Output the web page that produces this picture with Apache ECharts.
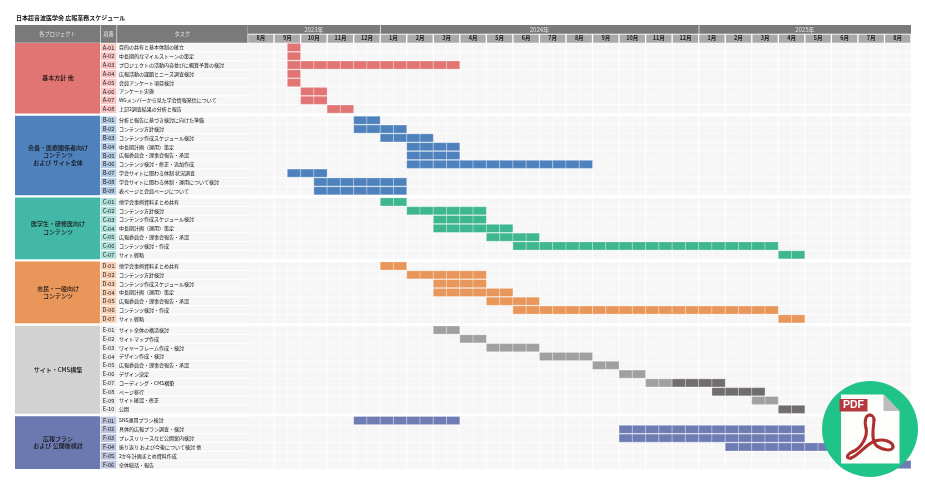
<!DOCTYPE html>
<html>
<head>
<meta charset="utf-8">
<style>html,body{margin:0;background:#fff}#chart{width:925px;height:484px}</style>
<script src="https://cdn.jsdelivr.net/npm/echarts@6/dist/echarts.min.js"></script>
</head>
<body>
<div id="chart"></div>
<script>
const chartTitle = '日本超音波医学会 広報業務スケジュール'
const headerLabels = ['各プロジェクト', '項番', 'タスク']
const years = ['2023年', '2024年', '2025年']
const yearMonths = [5, 12, 8]
const months = ['8月','9月','10月','11月','12月','1月','2月','3月','4月','5月','6月','7月','8月','9月','10月','11月','12月','1月','2月','3月','4月','5月','6月','7月','8月']
const projectNames = ['基本方針 他', '会員・医療関係者向け\nコンテンツ\nおよび サイト全体', '医学生・研修医向け\nコンテンツ', '市民・一般向け\nコンテンツ', 'サイト・CMS構築', '広報プラン\nおよび 公開後検討']
const taskCodes = [
  ['A-01','A-02','A-03','A-04','A-05','A-06','A-07','A-08'],
  ['B-01','B-02','B-03','B-04','B-05','B-06','B-07','B-08','B-09'],
  ['C-01','C-02','C-03','C-04','C-05','C-06','C-07'],
  ['D-01','D-02','D-03','D-04','D-05','D-06','D-07'],
  ['E-01','E-02','E-03','E-04','E-05','E-06','E-07','E-08','E-09','E-10'],
  ['F-01','F-02','F-03','F-04','F-05','F-06']
]
const taskNames = [
  ['目的の共有と基本体制の確立','中長期的なマイルストーンの策定','プロジェクトの活動内容並びに概算予算の検討','広報活動の課題とニーズ調査検討','会員アンケート項目検討','アンケート実施','WGメンバーから見た学会情報発信について','上記2調査結果の分析と報告'],
  ['分析と報告に基づき検討に向けた準備','コンテンツ方針検討','コンテンツ作成スケジュール検討','中長期計画（運用）策定','広報委員会・理事会報告・承認','コンテンツ検討・修正・追加作成','学会サイトに関わる体制 状況調査','学会サイトに関わる体制・運用について検討','表ページと会員ページについて'],
  ['他学会事例資料まとめ共有','コンテンツ方針検討','コンテンツ作成スケジュール検討','中長期計画（運用）策定','広報委員会・理事会報告・承認','コンテンツ検討・作成','サイト戦略'],
  ['他学会事例資料まとめ共有','コンテンツ方針検討','コンテンツ作成スケジュール検討','中長期計画（運用）策定','広報委員会・理事会報告・承認','コンテンツ検討・作成','サイト戦略'],
  ['サイト全体の構造検討','サイトマップ作成','ワイヤーフレーム作成・検討','デザイン作成・検討','広報委員会・理事会報告・承認','デザイン決定','コーディング・CMS構築','ページ移行','サイト確認・修正','公開'],
  ['SNS運用プラン検討','具体的広報プラン調査・検討','プレスリリースなど公開案内検討','振り返り および今後について検討 他','2か年計画まとめ資料作成','全体総括・報告']
]
// [task, first half-month, end half-month], 0 = start of Aug 2023
const taskBars = [
  ['A-01',3,4],['A-02',3,4],['A-03',3,16],['A-04',3,4],['A-05',3,4],['A-06',4,6],['A-07',4,6],['A-08',6,8],
  ['B-01',8,10],['B-02',8,12],['B-03',10,14],['B-04',12,16],['B-05',12,16],['B-06',12,26],['B-07',3,6],['B-08',5,12],['B-09',5,12],
  ['C-01',10,12],['C-02',12,18],['C-03',14,18],['C-04',14,20],['C-05',18,22],['C-06',20,40],['C-07',40,42],
  ['D-01',10,12],['D-02',12,18],['D-03',14,18],['D-04',14,20],['D-05',18,22],['D-06',20,40],['D-07',40,42],
  ['E-01',14,16],['E-02',16,18],['E-03',18,22],['E-04',22,26],['E-05',26,28],['E-06',28,30],['E-07',30,32],['E-09',38,40],
  ['F-01',8,16],['F-02',28,42],['F-03',28,42],['F-04',36,46],['F-06',46,50]
]
const darkBars = [['E-07',32,36],['E-08',35,39],['E-10',40,42]]

// styles
const FONT = '"Noto Sans CJK JP"'
const groupColors = ['#e07573', '#4f82bd', '#44b8a8', '#e8965a', '#d2d2d2', '#6c79b0']
const codeColors = ['#f8c5c3', '#b4cbe6', '#acdfd7', '#f8cfb2', '#ececec', '#bcc3dc']
const barColors = ['#e07573', '#4f82bd', '#3eb68f', '#e8965a', '#a0a0a0', '#6f7cb3']
const darkBar = '#716d6d'
const GAP = 0.27
const HEADER = 2.04
const colEdges = [0, 85, 101.5, 232.5] // group, code, task columns

// row lookup, y unit = one row
const rows = []
const groups = []
taskCodes.forEach((codes, g) => {
  const y0 = rows.length + g * GAP
  codes.forEach((code, i) => rows.push({ code, name: taskNames[g][i], g, y: y0 + i }))
  groups.push({ g, y0, y1: y0 + codes.length })
})
const totalY = rows.length + (taskCodes.length - 1) * GAP
const rowOf = code => rows.find(r => r.code === code)

function box(api, x0, x1, y0, y1, fill, extra) {
  const a = api.coord([x0, y0]), b = api.coord([x1, y1])
  return Object.assign({ type: 'rect', shape: { x: a[0], y: a[1], width: b[0] - a[0], height: b[1] - a[1] }, style: { fill } }, extra)
}
function label(api, x, y, text, size, fill, align, weight) {
  const p = api.coord([x, y])
  return { type: 'text', z2: 5, style: { x: p[0], y: p[1], text, fill, align: align || 'center', verticalAlign: 'middle', font: (weight || 'normal') + ' ' + size + 'px ' + FONT, lineHeight: size * 1.25 } }
}
// acrobat mark of the pdf badge
const logoStroke = { fill: 'none', stroke: '#ae2f30', lineWidth: 3, lineCap: 'round' }
const logoSegs = [
  [870,415, 866,415, 864,420, 866,428], [866,428, 868,436, 862,448, 852,452], [852,452, 846,455, 846,459, 851,458],
  [851,458, 858,456, 866,444, 875,441], [875,441, 884,438, 893,442, 893,447], [893,447, 893,451, 884,451, 877,446],
  [877,446, 870,441, 874,425, 874,420], [874,420, 874,417, 872,415, 870,415]
]
const logo = logoSegs.map(s => ({ type: 'bezierCurve', shape: { x1: s[0], y1: s[1], cpx1: s[2], cpy1: s[3], cpx2: s[4], cpy2: s[5], x2: s[6], y2: s[7] }, style: logoStroke }))
const badge = [
  { type: 'circle', shape: { cx: 870, cy: 429, r: 48 }, style: { fill: '#20c489' } },
  { type: 'polygon', shape: { points: [[841, 394.5], [883.5, 394.5], [899.5, 411], [899.5, 463.5], [841, 463.5]] }, style: { fill: '#fdfdfb' } },
  { type: 'polygon', shape: { points: [[883.5, 394.5], [899.5, 411], [883.5, 411]] }, style: { fill: '#bcbcbc' } },
  { type: 'rect', shape: { x: 839.5, y: 399, width: 28, height: 12.5 }, style: { fill: '#b5383c' } },
  { type: 'text', style: { x: 853.5, y: 405.5, text: 'PDF', fill: '#fff', align: 'center', verticalAlign: 'middle', font: 'bold 10.5px "Liberation Sans"' } }
].concat(logo)

const chart = echarts.init(document.getElementById('chart'))
chart.setOption({
  animation: false,
  title: { text: chartTitle, left: 16, top: 15, padding: 0, textStyle: { fontFamily: FONT, fontSize: 6, fontWeight: 'bold', color: '#111' } },
  grid: [
    { left: 15, width: 232.5, top: 43, height: 426 },
    { left: 247.5, width: 663.5, top: 43, height: 426 }
  ],
  xAxis: [
    { type: 'value', gridIndex: 0, min: 0, max: colEdges[3], show: false },
    { type: 'value', gridIndex: 1, min: 0, max: 50, show: false },
    { type: 'category', gridIndex: 1, position: 'top', data: months, z: 10,
      axisLine: { show: false }, axisTick: { show: false }, splitLine: { show: false },
      axisLabel: { interval: 0, margin: 2.5, fontFamily: FONT, fontSize: 5.5, fontWeight: 'bold', color: '#222' } }
  ],
  yAxis: [
    { type: 'value', gridIndex: 0, inverse: true, min: 0, max: totalY, show: false },
    { type: 'value', gridIndex: 1, inverse: true, min: 0, max: totalY, show: false }
  ],
  series: [
    { // left part of the table
      type: 'custom', xAxisIndex: 0, yAxisIndex: 0, data: rows.map((r, i) => [i]), silent: true,
      renderItem(params, api) {
        const r = rows[params.dataIndex]
        const h = 0.06
        return { type: 'group', children: [
          box(api, colEdges[1] + 0.6, colEdges[2], r.y + h, r.y + 1 - h, codeColors[r.g]),
          box(api, colEdges[2], colEdges[3], r.y + h, r.y + 1 - h, '#f6f6f6'),
          label(api, (colEdges[1] + colEdges[2]) / 2 + 0.3, r.y + 0.5, r.code, 5.6, '#222'),
          label(api, colEdges[2] + 2.5, r.y + 0.5, r.name, 5, '#111', 'left')
        ] }
      }
    },
    { // project cells
      type: 'custom', xAxisIndex: 0, yAxisIndex: 0, data: groups.map(g => [g.g]), silent: true,
      renderItem(params, api) {
        const g = groups[params.dataIndex]
        return { type: 'group', children: [
          box(api, colEdges[0], colEdges[1], g.y0, g.y1, groupColors[g.g]),
          label(api, colEdges[1] / 2 + 0.5, (g.y0 + g.y1) / 2 - 0.05, projectNames[g.g], 6, '#111', 'center', '500')
        ] }
      }
    },
    { // header of the left part
      type: 'custom', xAxisIndex: 0, yAxisIndex: 0, data: headerLabels.map((s, i) => [i]), silent: true,
      renderItem(params, api) {
        const i = params.dataIndex
        const x0 = colEdges[i] + (i ? 0.6 : 0), x1 = colEdges[i + 1]
        return { type: 'group', children: [
          box(api, x0, x1, -HEADER, -0.02, '#7a7a7a'),
          label(api, (x0 + x1) / 2, -HEADER / 2, headerLabels[i], 5.2, '#e4e4e4')
        ] }
      }
    },
    { // empty schedule grid
      type: 'custom', xAxisIndex: 1, yAxisIndex: 1, data: rows.map((r, i) => [i]), silent: true,
      renderItem(params, api) {
        const r = rows[params.dataIndex]
        const kids = [box(api, 0, 50, r.y + 0.04, r.y + 0.96, '#f6f6f6')]
        for (let h = 1; h < 50; h++) {
          const a = api.coord([h, r.y]), b = api.coord([h, r.y + 1])
          kids.push({ type: 'line', shape: { x1: a[0], y1: a[1], x2: b[0], y2: b[1] }, style: { stroke: '#fff', lineWidth: h % 2 ? 0.6 : 1 } })
        }
        return { type: 'group', children: kids }
      }
    },
    { // bars, one cell per half month
      type: 'custom', xAxisIndex: 1, yAxisIndex: 1, data: taskBars.concat(darkBars).map((b, i) => [i]), silent: true,
      renderItem(params, api) {
        const i = params.dataIndex
        const b = taskBars.concat(darkBars)[i]
        const r = rowOf(b[0])
        const fill = i >= taskBars.length ? darkBar : barColors[r.g]
        const kids = []
        for (let h = b[1]; h < b[2]; h++) {
          kids.push(box(api, h, h + 1, r.y + 0.04, r.y + 0.96, fill, { style: { fill, stroke: 'rgba(255,255,255,0.35)', lineWidth: 0.8 } }))
        }
        return { type: 'group', children: kids }
      }
    },
    { // year and month header cells
      type: 'custom', xAxisIndex: 1, yAxisIndex: 1, data: months.map((m, i) => [i]), silent: true,
      renderItem(params, api) {
        const i = params.dataIndex
        return box(api, i * 2 + 0.05, i * 2 + 1.95, -0.95, -0.03, '#a9a9a9')
      }
    },
    {
      type: 'custom', xAxisIndex: 1, yAxisIndex: 1, data: years.map((y, i) => [i]), silent: true,
      renderItem(params, api) {
        const i = params.dataIndex
        const start = yearMonths.slice(0, i).reduce((s, n) => s + n, 0) * 2
        const end = start + yearMonths[i] * 2
        return { type: 'group', children: [
          box(api, start + (i ? 0.05 : 0), end, -HEADER, -1.05, '#7a7a7a'),
          label(api, (start + end) / 2, -HEADER + 0.5, years[i], 6, '#e4e4e4')
        ] }
      }
    }
  ],
  graphic: badge.map(el => Object.assign({ z: 100 }, el))
})
</script>
</body>
</html>
